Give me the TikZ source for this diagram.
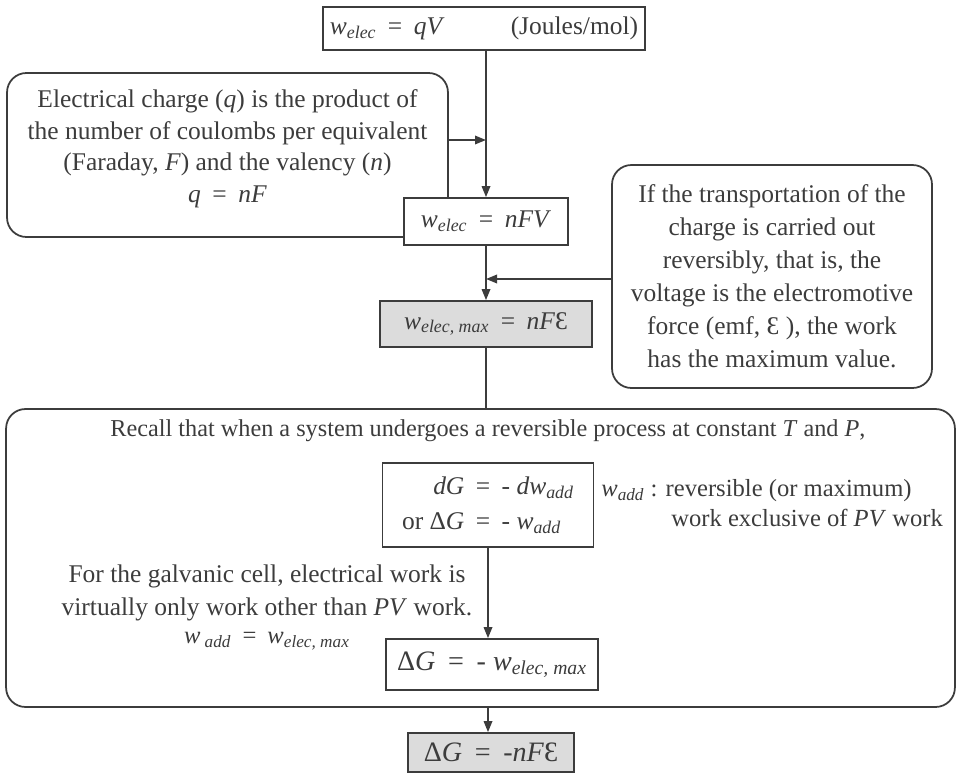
\documentclass[tikz,border=0pt]{standalone}
\usepackage{fontspec}
\setmainfont{Liberation Serif}
\usetikzlibrary{arrows.meta}

\definecolor{ink}{HTML}{3C3C3C}
\definecolor{shade}{HTML}{DCDCDC}

% work symbol with an italic subscript
\newcommand{\wsub}[1]{\textit{w}\textsubscript{\textit{#1}}}
\newcommand{\eqsp}{\hspace{0.45em}=\hspace{0.45em}}

\tikzset{
  eqbox/.style={draw=ink, line width=1pt, fill=white, text=ink, inner sep=0pt},
  greybox/.style={eqbox, fill=shade},
  notebox/.style={draw=ink, line width=1pt, rounded corners=11pt, text=ink, align=center, inner sep=0pt},
  note/.style={text=ink, inner sep=0pt},
  arr/.style={draw=ink, line width=1pt, -{Triangle[length=0.22cm,width=0.17cm]}},
  wire/.style={draw=ink, line width=1pt}
}

\begin{document}
\begin{tikzpicture}[x=0.02cm, y=-0.02cm, font=\fontsize{14.5}{17.6}\selectfont]
	\useasboundingbox (0,0) rectangle (962,777);

	% top chain
	\node[eqbox, minimum width=6.44cm, minimum height=0.86cm] (top) at (484,28.5)
		{\wsub{elec}\eqsp\textit{qV}\hspace{2.6em}(Joules/mol)};
	\node[notebox, minimum width=8.82cm, minimum height=3.28cm,
		font=\fontsize{14.5}{18.2}\selectfont] (charge) at (227.5,155)
		{Electrical charge (\textit{q}) is the product of\\
		 the number of coulombs per equivalent\\
		 (Faraday, \textit{F}) and the valency (\textit{n})\\
		 \textit{q}\eqsp\textit{nF}\\[-8pt]};
	\node[eqbox, minimum width=3.28cm, minimum height=0.94cm] (nfv) at (486,221.5)
		{\wsub{elec}\eqsp\textit{nFV}};
	\node[notebox, minimum width=6.4cm, minimum height=4.46cm,
		font=\fontsize{14.5}{18.8}\selectfont] (rev) at (772,276.5)
		{If the transportation of the\\
		 charge is carried out\\
		 reversibly, that is, the\\
		 voltage is the electromotive\\
		 force (emf, Ɛ ), the work\\
		 has the maximum value.};
	\node[greybox, minimum width=4.24cm, minimum height=0.92cm] (max) at (486,324)
		{\wsub{elec, max}\eqsp\textit{nF}Ɛ};

	\coordinate (j1) at (486,140);
	\coordinate (j2) at (486,279);
	\draw[arr] (top.south -| nfv) -- (nfv.north);
	\draw[arr] (charge.east |- j1) -- (j1);
	\draw[arr] (nfv.south) -- (max.north);
	\draw[arr] (rev.west |- j2) -- (j2);

	% Gibbs energy part
	\node[notebox, minimum width=18.98cm, minimum height=5.96cm] (recall) at (480.5,558) {};
	\draw[wire] (max.south) -- (max.south |- recall.north);
	\node[note, font=\fontsize{13.8}{16}\selectfont] (recalltxt) at (488,431)
		{Recall that when a system undergoes a reversible process at constant \textit{T} and \textit{P},};
	\node[eqbox, minimum width=4.22cm, minimum height=1.68cm] (dg) at (488,505)
		{\renewcommand{\arraystretch}{1.15}\begin{tabular}{@{}r@{}l@{}}
		 \textit{dG} & \eqsp- \textit{d}\wsub{add}\\
		 or Δ\textit{G} & \eqsp- \wsub{add}
		 \end{tabular}};
	\node[note, anchor=west, align=left, font=\fontsize{14}{17}\selectfont] (waddtxt) at (601,503)
		{\wsub{add} : reversible (or maximum)\\
		 \hspace*{1.4cm}work exclusive of \textit{PV} work};
	\node[note, align=center, font=\fontsize{14.5}{18.6}\selectfont] (galv) at (267,593)
		{For the galvanic cell, electrical work is\\
		 virtually only work other than \textit{PV} work.};
	\node[note, font=\fontsize{14}{16}\selectfont] (waddeq) at (267,641)
		{\textit{w}\,\textsubscript{\textit{add}}\eqsp\wsub{elec, max}};
	\node[eqbox, minimum width=4.24cm, minimum height=1.02cm,
		font=\fontsize{16}{18}\selectfont] (dgmax) at (492,664.5)
		{Δ\textit{G}\eqsp- \wsub{elec, max}};
	\draw[arr] (dg.south) -- (dg.south |- dgmax.north);

	\node[greybox, minimum width=3.32cm, minimum height=0.78cm,
		font=\fontsize{16}{18}\selectfont] (final) at (491,752.5)
		{Δ\textit{G}\eqsp-\textit{nF}Ɛ};
	\draw[arr] (recall.south -| dg) -- (dg |- final.north);
\end{tikzpicture}
\end{document}
